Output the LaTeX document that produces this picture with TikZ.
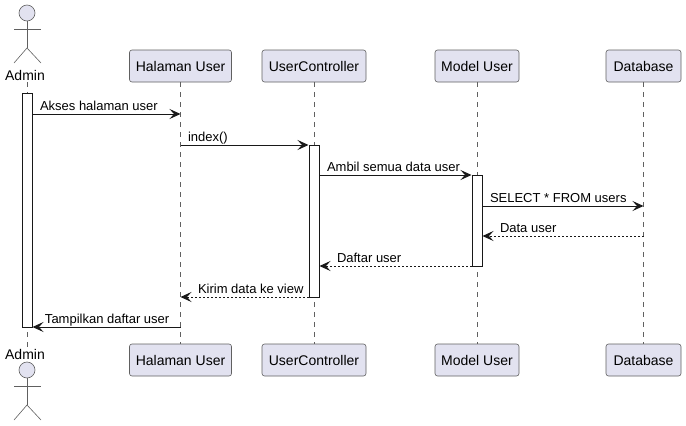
\documentclass[tikz,border=0pt]{standalone}
\usepackage{fontspec}
\setmainfont{Liberation Sans}
\usetikzlibrary{arrows.meta}
\usetikzlibrary{calc}

\definecolor{partfill}{HTML}{E2E2F0}
\definecolor{partline}{HTML}{181818}
\definecolor{thinline}{HTML}{606060}

\tikzset{>={Stealth[length=11pt,width=10pt,inset=4.5pt]}}
\tikzset{
    part/.style={draw=thinline, line width=0.6pt, fill=partfill, rounded corners=2.5pt, minimum height=32pt, inner sep=0pt, font=\fontsize{14}{16}\selectfont},
    actorname/.style={inner sep=0pt, minimum height=14pt, font=\fontsize{14}{16}\selectfont},
    actorline/.style={draw=thinline, line width=0.6pt},
    lifeline/.style={draw=thinline, line width=0.6pt, dash pattern=on 5pt off 5pt},
    bar/.style={draw=partline, line width=1pt, fill=white, minimum width=10pt, inner sep=0pt},
    msg/.style={->, draw=partline, line width=1pt},
    reply/.style={msg, dash pattern=on 2pt off 2pt},
    msglabel/.style={anchor=base west, inner sep=0pt, yshift=4pt, font=\fontsize{13}{15}\selectfont}
}

\begin{document}
\begin{tikzpicture}[x=1pt, y=-1pt]
    \useasboundingbox (0,0) rectangle (686,426);

    % Participants
    \foreach \name/\txt/\xpos/\wid in {Halaman/Halaman User/180.5/102, Controller/UserController/314/104, Model/Model User/477/84, Database/Database/643.5/75} {
        \node[part, minimum width=\wid pt] (top\name) at (\xpos,66) {\txt};
        \node[part, minimum width=\wid pt] (bot\name) at (\xpos,360) {\txt};
    }

    % Admin
    \coordinate (adminx) at (27,0);
    \node[actorname] (topAdmin) at (25,75) {Admin};
    \node[actorname] (botAdmin) at (25,354) {Admin};
    \foreach \ypos in {13,370} {
        \draw[actorline, fill=partfill] (27,\ypos) circle (8);
        \draw[actorline] (27,\ypos+8) -- (27,\ypos+35);
        \draw[actorline] (14,\ypos+16) -- (41,\ypos+16);
        \draw[actorline] (14,\ypos+50) -- (27,\ypos+35) -- (41,\ypos+50);
    }

    % Lifelines
    \draw[lifeline] (adminx |- topAdmin.south) -- (adminx |- botAdmin.north);
    \foreach \name in {Halaman,Controller,Model,Database} {
        \draw[lifeline] (top\name) -- (bot\name);
    }

    % Activations
    \node[bar, minimum height=234pt] (barAdmin) at (27,210) {};
    \node[bar, minimum height=152pt] (barController) at (314,221) {};
    \node[bar, minimum height=91pt] (barModel) at (477,220.5) {};

    % Messages
    \coordinate (m1) at (0,114);
    \coordinate (m2) at (0,145);
    \coordinate (m3) at (0,175);
    \coordinate (m4) at (0,206);
    \coordinate (m5) at (0,236);
    \coordinate (m6) at (0,266);
    \coordinate (m7) at (0,297);
    \coordinate (m8) at (0,327);

    \draw[msg] (barAdmin.east |- m1) -- (topHalaman |- m1) node[msglabel, pos=0, xshift=7pt] (l1) {Akses halaman user};
    \draw[msg] (topHalaman |- m2) -- (barController.west |- m2) node[msglabel, pos=0, xshift=7pt] (l2) {index()};
    \draw[msg] (barController.east |- m3) -- (barModel.west |- m3) node[msglabel, pos=0, xshift=7pt] (l3) {Ambil semua data user};
    \draw[msg] (barModel.east |- m4) -- (topDatabase |- m4) node[msglabel, pos=0, xshift=7pt] (l4) {SELECT * FROM users};
    \draw[reply] (topDatabase |- m5) -- (barModel.east |- m5) node[msglabel, pos=1, xshift=17pt] (l5) {Data user};
    \draw[reply] (barModel.west |- m6) -- (barController.east |- m6) node[msglabel, pos=1, xshift=17pt] (l6) {Daftar user};
    \draw[reply] (barController.west |- m7) -- (topHalaman |- m7) node[msglabel, pos=1, xshift=17pt] (l7) {Kirim data ke view};
    \draw[msg] (topHalaman |- m8) -- (barAdmin.east |- m8) node[msglabel, pos=1, xshift=12pt] (l8) {Tampilkan daftar user};
\end{tikzpicture}
\end{document}
